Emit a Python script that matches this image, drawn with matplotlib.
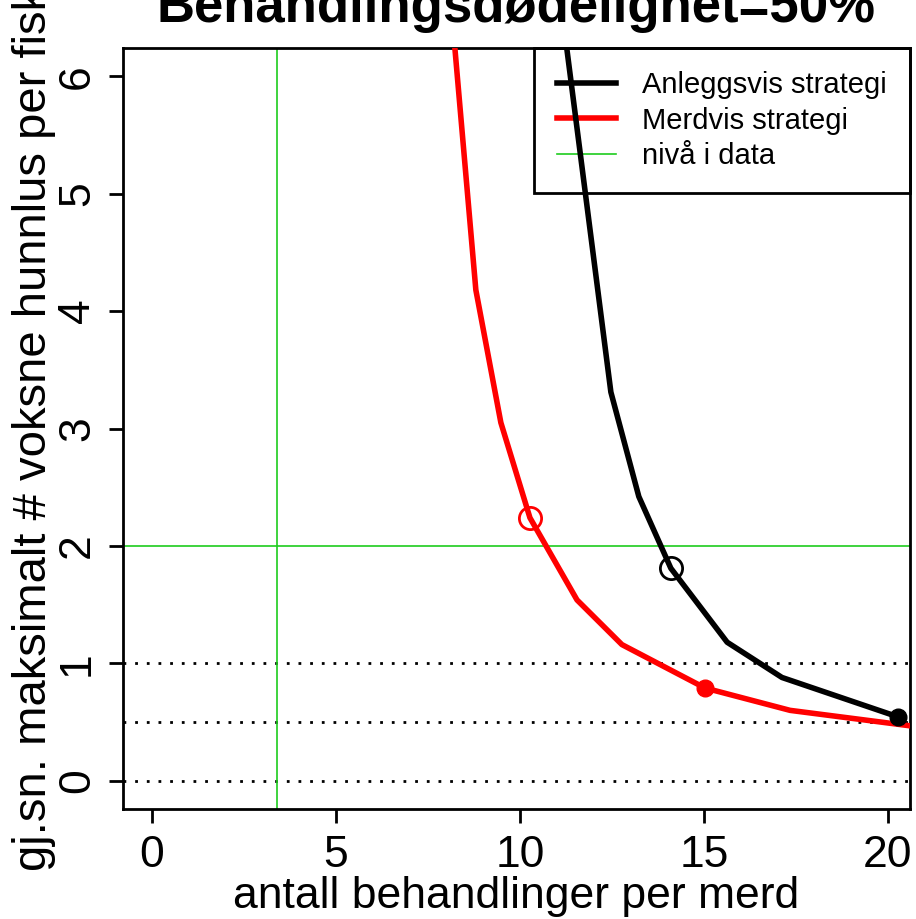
import matplotlib.pyplot as plt

# verdier lest av figuren
anlegg_x = [11.0, 12.47, 13.23, 14.1, 15.63, 17.12, 20.27]
anlegg_y = [6.9, 3.31, 2.42, 1.81, 1.18, 0.88, 0.545]
merd_x = [8.0, 8.8, 9.48, 10.27, 11.55, 12.77, 15.03, 17.34, 21.3]
merd_y = [7.07, 4.18, 3.05, 2.24, 1.54, 1.16, 0.79, 0.60, 0.44]

# markerte punkter (indeks i seriene over)
anlegg_aapen, anlegg_fylt = 3, 6
merd_aapen, merd_fylt = 3, 6

niva_x = 3.4
niva_y = 2.0
stiplet_y = [0, 0.5, 1]

xticks = [0, 5, 10, 15, 20]
yticks = [0, 1, 2, 3, 4, 5, 6]

plt.rcParams['font.family'] = ['Liberation Sans', 'DejaVu Sans']

fig = plt.figure(figsize=(9.16, 9.19), dpi=100)
ax = fig.add_axes([123/916, 1 - 809/919, (910 - 123)/916, (809 - 48)/919])

for y in stiplet_y:
    ax.axhline(y, color='black', lw=2, linestyle=(0, (1, 3.2)), zorder=1)

ax.axvline(niva_x, color='#1ecc1e', lw=1.2, zorder=1)
ax.axhline(niva_y, color='#1ecc1e', lw=1.2, zorder=1, label='nivå i data')

ax.plot(anlegg_x, anlegg_y, color='black', lw=4, label='Anleggsvis strategi', zorder=3)
ax.plot(merd_x, merd_y, color='red', lw=4, label='Merdvis strategi', zorder=3)

ax.plot(anlegg_x[anlegg_aapen], anlegg_y[anlegg_aapen], 'o', ms=16, mfc='none', mec='black', mew=2, zorder=4)
ax.plot(anlegg_x[anlegg_fylt], anlegg_y[anlegg_fylt], 'o', ms=12, color='black', zorder=4)
ax.plot(merd_x[merd_aapen], merd_y[merd_aapen], 'o', ms=16, mfc='none', mec='red', mew=2, zorder=4)
ax.plot(merd_x[merd_fylt], merd_y[merd_fylt], 'o', ms=12, color='red', zorder=4)

ax.set_xlim(-0.79, 20.6)
ax.set_ylim(-0.24, 6.24)
ax.set_xticks(xticks)
ax.set_yticks(yticks)
ax.tick_params(axis='both', labelsize=32, width=2, length=10)
ax.tick_params(axis='x', pad=9)
ax.tick_params(axis='y', labelrotation=90, pad=8)
for lab in ax.get_yticklabels():
    lab.set_va('center')
for s in ax.spines.values():
    s.set_linewidth(2)

ax.set_xlabel('antall behandlinger per merd', fontsize=32, labelpad=0)
ax.set_ylabel('gj.sn. maksimalt # voksne hunnlus per fisk', fontsize=34, labelpad=1)

h, l = ax.get_legend_handles_labels()
order = [l.index('Anleggsvis strategi'), l.index('Merdvis strategi'), l.index('nivå i data')]
leg = ax.legend([h[i] for i in order], [l[i] for i in order], loc='upper right',
                bbox_to_anchor=(1, 1), borderaxespad=0, fontsize=21, fancybox=False,
                facecolor='none', framealpha=1, edgecolor='black', handlelength=2,
                labelspacing=0.25, borderpad=0.8, handletextpad=0.9)
leg.get_frame().set_linewidth(2)
leg.set_zorder(2)

fig.text((123 + 910) / 2 / 916, 1 - 22/919, 'Behandlingsdødelighet=50%', ha='center',
         va='baseline', fontsize=38, fontweight='bold')

fig.savefig('out.png', dpi=100)
